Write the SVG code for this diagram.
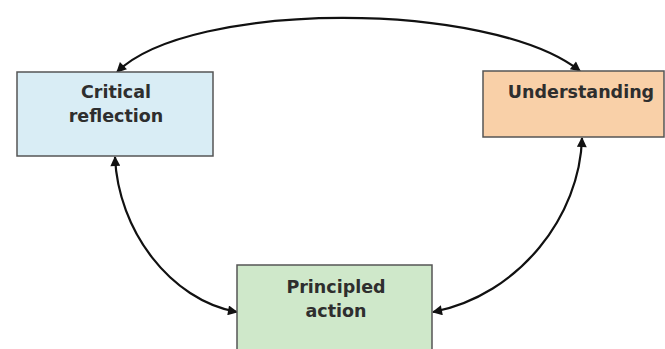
<svg xmlns="http://www.w3.org/2000/svg" width="665" height="349" viewBox="0 0 665 349">
<defs>
<marker id="ah" viewBox="0 0 10 10" refX="9" refY="5" markerWidth="12" markerHeight="10" markerUnits="userSpaceOnUse" orient="auto-start-reverse">
<path d="M0,0 L10,5 L0,10 z" fill="#111"/>
</marker>
<style>
.box{stroke:#555;stroke-width:1.5}
.lbl{font-family:"DejaVu Sans",Verdana,sans-serif;font-weight:bold;font-size:17.5px;fill:#2e2e2e;text-anchor:middle}
.con{fill:none;stroke:#111;stroke-width:2.2;marker-start:url(#ah);marker-end:url(#ah)}
</style>
</defs>
<rect width="665" height="349" fill="#fff"/>
<g id="connectors">
<path class="con" d="M117,72 C190,0 490,0 580,71"/>
<path class="con" d="M115,157 C118,230 170,300 237,312"/>
<path class="con" d="M582,138 C580,215 520,295 433,312"/>
</g>
<g id="critical-reflection">
<rect class="box" x="17" y="72" width="196" height="84" fill="#d9edf5"/>
<text class="lbl" x="116" y="98">Critical</text>
<text class="lbl" x="116" y="122">reflection</text>
</g>
<g id="understanding">
<rect class="box" x="483" y="71" width="181" height="66" fill="#f9d0a8"/>
<text class="lbl" x="581" y="98">Understanding</text>
</g>
<g id="principled-action">
<rect class="box" x="237" y="265" width="195" height="100" fill="#cfe8ca"/>
<text class="lbl" x="336" y="293">Principled</text>
<text class="lbl" x="336" y="317">action</text>
</g>
</svg>
